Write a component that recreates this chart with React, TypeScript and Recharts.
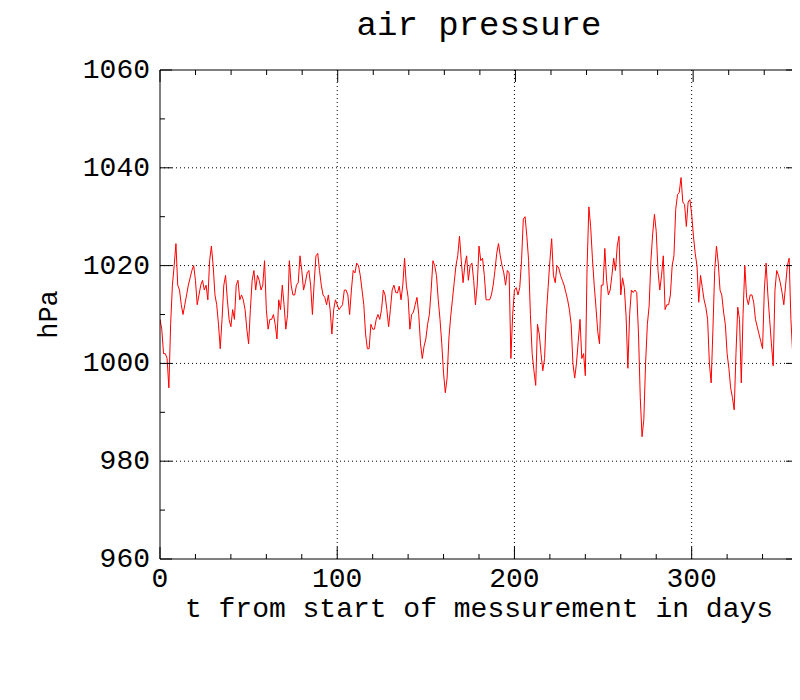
import React from 'react';
import { LineChart, Line, XAxis, YAxis, ReferenceLine } from 'recharts';

const titleText = 'air pressure';
const xLabelText = 't from start of messurement in days';
const yLabelText = 'hPa';

// daily air pressure readings (hPa), day 0 .. 359
const pressure = [
  1009, 1007, 1002, 1002, 1001, 995, 1008, 1016, 1020, 1024.5,
  1016, 1015, 1012, 1010, 1012, 1014, 1016, 1017.5, 1019, 1020,
  1017, 1012, 1014, 1016, 1017, 1015, 1016, 1013, 1021, 1024,
  1020, 1014, 1012, 1008, 1003, 1009, 1016, 1018, 1013, 1009,
  1007.5, 1011, 1009, 1016, 1017, 1013, 1014, 1013, 1011, 1007,
  1004, 1011, 1017, 1019, 1015, 1018, 1017, 1015, 1016, 1021,
  1011, 1007, 1009, 1009, 1010, 1008, 1005, 1013, 1011, 1016,
  1012, 1007, 1010, 1021, 1016, 1014, 1014, 1016, 1016.5, 1022,
  1019, 1015, 1016.5, 1018.5, 1019, 1016, 1010, 1016.5, 1022, 1022.5,
  1019, 1016, 1014, 1013.5, 1012, 1014, 1011, 1006, 1011, 1013,
  1012, 1011, 1011.5, 1012, 1015, 1015, 1014, 1010, 1015, 1019,
  1018.5, 1020.5, 1020, 1018, 1015, 1012, 1006, 1003, 1003, 1008,
  1007, 1007, 1009, 1010, 1009, 1011, 1015, 1014, 1011, 1007.5,
  1011, 1015, 1016, 1014.5, 1014.4, 1015.8, 1013, 1016, 1021.5, 1016,
  1013.5, 1007, 1010, 1010.5, 1012, 1013.5, 1010, 1004, 1001, 1003.5,
  1005, 1008, 1010, 1015, 1021, 1020, 1018, 1013, 1009, 1004,
  998, 994, 997, 1005, 1009.5, 1013, 1016.5, 1020, 1022, 1026,
  1021, 1016.5, 1020, 1022, 1017, 1020, 1020.5, 1017, 1012, 1016,
  1024, 1021, 1021.5, 1018, 1013, 1013, 1013, 1014, 1016, 1019,
  1022.5, 1024.5, 1022, 1020, 1018.5, 1016, 1019, 1018.5, 1001, 1010,
  1015, 1015.5, 1014, 1015.5, 1021, 1029.5, 1030, 1026, 1021, 1010,
  1002, 998.5, 995.5, 1008, 1006, 1002, 998.5, 1001, 1010, 1015.5,
  1021, 1025.5, 1018, 1016.5, 1020, 1019.5, 1018, 1017, 1016, 1014.5,
  1013, 1011, 1008, 1000, 997, 1000, 1004.5, 1009, 1001, 1002,
  997.5, 1020, 1032, 1028, 1021.5, 1016, 1011.5, 1006.5, 1004, 1016,
  1016, 1023.5, 1017, 1014, 1015, 1018, 1021.5, 1019, 1024, 1026,
  1014, 1017.5, 1015.5, 1009.6, 999, 1010, 1015, 1014.5, 1015, 1014.5,
  1006, 993, 985, 988.5, 1000, 1008, 1011.7, 1021, 1026.5, 1030.5,
  1027, 1019, 1015, 1018, 1022, 1011, 1012, 1012, 1014, 1020,
  1022, 1031.5, 1034.5, 1035, 1038, 1033, 1032.5, 1028, 1033, 1033.5,
  1030.5, 1026, 1022.5, 1020, 1012.5, 1018, 1015.5, 1013, 1011.5, 1009,
  1000, 996, 1007, 1019, 1024, 1020.5, 1015, 1014, 1010.5, 1008,
  1002, 999, 995, 993, 990.5, 1002, 1011.5, 1009, 996, 1010,
  1020, 1013.5, 1012, 1014, 1014, 1012.5, 1009, 1007.5, 1006, 1004.5,
  1003, 1015, 1020.5, 1014, 1009, 1004, 999.5, 1015, 1019, 1018,
  1016.5, 1014.5, 1012, 1016, 1020, 1021.5, 1009, 1002, 999, 995,
];

const xDomain = [0, 360];
const yDomain = [960, 1060];
const xTicks = [0, 20, 40, 60, 80, 100, 120, 140, 160, 180, 200, 220, 240, 260, 280, 300, 320, 340, 360];
const xLabeled = [0, 100, 200, 300];
const yTicks = [960, 970, 980, 990, 1000, 1010, 1020, 1030, 1040, 1050, 1060];
const yLabeled = [960, 980, 1000, 1020, 1040, 1060];
const xGrid = [100, 200, 300];
const yGrid = [980, 1000, 1020, 1040];

const data = pressure.map((p, i) => ({ t: i, p }));

const FONT = '"Liberation Mono", "DejaVu Sans Mono", monospace';
const MAJOR = 12;
const MINOR = 5;

const BottomTick = (props: any) => {
  const { x, y, payload } = props;
  const v = payload.value;
  const major = v % 100 === 0;
  const len = major ? MAJOR : MINOR;
  return (
    <g>
      <line x1={x} y1={y} x2={x} y2={y - len} stroke="#000" strokeWidth={1} />
      {xLabeled.includes(v) && (
        <text x={x} y={y + 28} textAnchor="middle" fontSize={28} fontFamily={FONT} fill="#000">
          {v}
        </text>
      )}
    </g>
  );
};

const TopTick = (props: any) => {
  const { x, y, payload } = props;
  const v = payload.value;
  const len = v % 100 === 0 ? MAJOR : MINOR;
  return <line x1={x} y1={y} x2={x} y2={y + len} stroke="#000" strokeWidth={1} />;
};

const LeftTick = (props: any) => {
  const { x, y, payload } = props;
  const v = payload.value;
  const major = v % 20 === 0;
  const len = major ? MAJOR : MINOR;
  return (
    <g>
      <line x1={x} y1={y} x2={x + len} y2={y} stroke="#000" strokeWidth={1} />
      {yLabeled.includes(v) && (
        <text x={x - 10} y={y + 8} textAnchor="end" fontSize={28} fontFamily={FONT} fill="#000">
          {v}
        </text>
      )}
    </g>
  );
};

const RightTick = (props: any) => {
  const { x, y, payload } = props;
  const v = payload.value;
  const len = v % 20 === 0 ? MAJOR : MINOR;
  return <line x1={x} y1={y} x2={x - len} y2={y} stroke="#000" strokeWidth={1} />;
};

const XTitle = (props: any) => {
  const vb = props.viewBox || {};
  return (
    <text x={vb.x + vb.width / 2} y={vb.y + 58} textAnchor="middle" fontSize={28} fontFamily={FONT} fill="#000">
      {xLabelText}
    </text>
  );
};

const TopTitle = (props: any) => {
  const vb = props.viewBox || {};
  return (
    <text x={vb.x + vb.width / 2} y={vb.y + vb.height - 35} textAnchor="middle" fontSize={34} fontFamily={FONT} fill="#000">
      {titleText}
    </text>
  );
};

const YTitle = (props: any) => {
  const vb = props.viewBox || {};
  const cx = vb.x + vb.width - 103;
  const cy = vb.y + vb.height / 2;
  return (
    <text x={cx} y={cy} textAnchor="middle" fontSize={27} fontFamily={FONT} fill="#000" transform={`rotate(-90, ${cx}, ${cy})`}>
      {yLabelText}
    </text>
  );
};

export default function App() {
  return (
    <div style={{ width: 800, height: 692, background: '#fff' }}>
      <LineChart
        width={800}
        height={692}
        data={data}
        margin={{ top: 22, right: 0, bottom: 41, left: 52 }}
      >
        <XAxis
          xAxisId={0}
          dataKey="t"
          type="number"
          domain={xDomain}
          ticks={xTicks}
          interval={0}
          height={100}
          tickSize={0}
          tickMargin={0}
          tickLine={false}
          axisLine={{ stroke: '#000', strokeWidth: 1 }}
          tick={<BottomTick />}
          label={{ content: <XTitle /> }}
          allowDataOverflow
        />
        <XAxis
          xAxisId="top"
          orientation="top"
          type="number"
          domain={xDomain}
          ticks={xTicks}
          interval={0}
          height={40}
          tickSize={0}
          tickMargin={0}
          tickLine={false}
          axisLine={{ stroke: '#000', strokeWidth: 1 }}
          tick={<TopTick />}
          label={{ content: <TopTitle /> }}
          allowDataOverflow
        />
        <YAxis
          yAxisId={0}
          type="number"
          domain={yDomain}
          ticks={yTicks}
          interval={0}
          width={100}
          tickSize={0}
          tickMargin={0}
          tickLine={false}
          axisLine={{ stroke: '#000', strokeWidth: 1 }}
          tick={<LeftTick />}
          label={{ content: <YTitle /> }}
          allowDataOverflow
        />
        <YAxis
          yAxisId="right"
          orientation="right"
          type="number"
          domain={yDomain}
          ticks={yTicks}
          interval={0}
          width={10}
          tickSize={0}
          tickMargin={0}
          tickLine={false}
          axisLine={{ stroke: '#000', strokeWidth: 1 }}
          tick={<RightTick />}
          allowDataOverflow
        />
        {xGrid.map((v) => (
          <ReferenceLine key={'gx' + v} x={v} xAxisId={0} yAxisId={0} stroke="#000" strokeWidth={1} strokeDasharray="1 3" />
        ))}
        {yGrid.map((v) => (
          <ReferenceLine key={'gy' + v} y={v} xAxisId={0} yAxisId={0} stroke="#000" strokeWidth={1} strokeDasharray="1 3" />
        ))}
        <Line
          xAxisId={0}
          yAxisId={0}
          type="linear"
          dataKey="p"
          stroke="#ff0000"
          strokeWidth={1}
          dot={false}
          activeDot={false}
          isAnimationActive={false}
        />
      </LineChart>
    </div>
  );
}
